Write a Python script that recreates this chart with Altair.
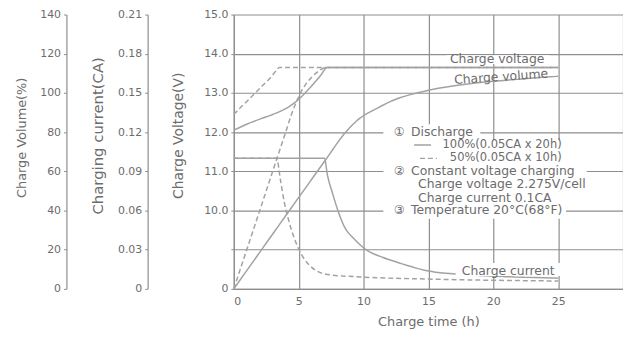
import json
import altair as alt
import pandas as pd

# ---------------- values ----------------
# charge voltage (V)
v100_hours = [0, 1, 2, 3, 4, 4.7, 5.5, 6.2, 6.7, 7.2, 25]
v100_volts = [12.05, 12.2, 12.33, 12.45, 12.6, 12.75, 13.0, 13.25, 13.45, 13.65, 13.65]
v50_hours = [0, 0.5, 1, 1.6, 2.2, 2.8, 3.3, 3.5, 25]
v50_volts = [12.45, 12.62, 12.78, 12.98, 13.18, 13.38, 13.58, 13.65, 13.65]
# charge volume (%)
q100_hours = [0, 7.2, 8.5, 9.7, 11, 12.2, 14.8, 18.6, 22, 25]
q100_pct = [0, 67, 79, 87, 92, 96, 101, 105, 107, 108.5]
q50_hours = [0, 3.3, 4, 4.5, 5, 5.5, 6, 6.5, 7.2, 25]
q50_pct = [0, 66, 80, 90, 98, 104, 108, 111, 113, 113]
# charging current (CA)
i100_hours = [0, 7.0, 7.2, 7.6, 8.5, 9.3, 10.2, 11.5, 12.7, 15, 18, 21, 25]
i100_ca = [0.1, 0.1, 0.088, 0.0735, 0.048, 0.038, 0.030, 0.024, 0.020, 0.0136, 0.0108, 0.0093, 0.0082]
i50_hours = [0, 3.3, 3.6, 3.9, 4.27, 4.89, 5.65, 7.2, 10, 15, 25]
i50_ca = [0.1, 0.1, 0.083, 0.066, 0.051, 0.033, 0.020, 0.011, 0.009, 0.0075, 0.006]

series_names = ["100%", "50%"]

# tick labels
time_ticks = [0, 5, 10, 15, 20, 25, 30]
time_labels = ["0", "5", "10", "15", "20", "25", ""]
volume_ticks = [0, 20, 40, 60, 80, 100, 120, 140]
current_ticks = [0, 0.03, 0.06, 0.09, 0.12, 0.15, 0.18, 0.21]
current_labels = ["0", "0.03", "0.06", "0.09", "0.12", "0.15", "0.18", "0.21"]
voltage_ticks = [8, 9, 10, 11, 12, 13, 14, 15]
voltage_labels = ["0", "", "10.0", "11.0", "12.0", "13.0", "14.0", "15.0"]

# annotation texts
legend_circles = ["\u2460", "\u2461", "\u2462"]
legend_heads = ["Discharge", "Constant voltage charging", "Temperature 20\u00b0C(68\u00b0F)"]
legend_subs = ["Charge voltage 2.275V/cell", "Charge current 0.1CA"]
legend_discharge = ["100%(0.05CA x 20h)", "50%(0.05CA x 10h)"]
curve_labels = ["Charge voltage", "Charge current"]
volume_label = ["Charge volume"]

# annotation placement (hours, volts on the voltage scale)
circle_x = [12.75, 12.75, 12.75]
head_x = [13.66, 13.66, 13.66]
head_y = [12.0, 11.0, 10.0]
sub_x = [14.2, 14.2]
sub_y = [10.67, 10.33]
dis_x = [25.27, 25.27]
dis_y = [11.67, 11.33]
curve_label_x = [20.3, 21.15]
curve_label_y = [13.86, 8.455]
volume_label_x = [20.6]
volume_label_y = [13.41]
sample_x1 = [13.9, 14.35]
sample_x2 = [15.2, 15.65]
bg_h1 = [11.53, 11.53, 11.53, 11.53, 11.53, 11.53, 16.4, 17.1]
bg_h2 = [19.0, 25.5, 27.2, 27.8, 25.3, 25.6, 24.35, 25.2]
bg_v1 = [12.20, 11.79, 11.16, 10.81, 10.48, 10.15, 13.96, 8.66]
bg_v2 = [11.79, 11.16, 10.81, 10.48, 10.15, 9.79, 13.74, 8.33]

# ---------------- styling ----------------
GRID = "#8e8e8e"
CURVE = "#a2a2a2"
TEXT = "#6c6c6c"
FONT = "DejaVu Sans"


def long_df(pairs):
    rows = []
    for name, hs, vs in pairs:
        for h, v in zip(hs, vs):
            rows.append({"hours": h, "value": v, "series": name})
    return pd.DataFrame(rows)


voltage_df = long_df([("100%", v100_hours, v100_volts), ("50%", v50_hours, v50_volts)])
volume_df = long_df([("100%", q100_hours, q100_pct), ("50%", q50_hours, q50_pct)])
current_df = long_df([("100%", i100_hours, i100_ca), ("50%", i50_hours, i50_ca)])

x_axis = alt.Axis(
    values=time_ticks,
    labelExpr=f"{json.dumps(time_labels)}[indexof({json.dumps(time_ticks)}, datum.value)]",
    grid=True, gridColor=GRID, gridWidth=1.2,
    ticks=False, domainColor=GRID, domainWidth=1.2,
    labelFont=FONT, labelFontSize=11, labelColor=TEXT, labelPadding=7,
    title="Charge time  (h)", titleFont=FONT, titleFontSize=13, titleFontWeight="normal",
    titleColor=TEXT, titlePadding=9,
)


def x_enc(field="hours"):
    return alt.X(f"{field}:Q", scale=alt.Scale(domain=[0, 30], nice=False, zero=False), axis=x_axis)


def y_scale(lo, hi):
    return alt.Scale(domain=[lo, hi], nice=False, zero=False)


def left_axis(title, offset, values, label_expr, title_x, title_y, title_size, grid=False):
    return alt.Axis(
        orient="left", offset=offset, values=values, labelExpr=label_expr,
        grid=grid, gridColor=GRID, gridWidth=1.2,
        tickSize=3, tickColor=GRID, domainColor=GRID, domainWidth=1.2,
        labelFont=FONT, labelFontSize=11, labelColor=TEXT, labelPadding=3,
        title=title, titleFont=FONT, titleFontSize=title_size, titleFontWeight="normal",
        titleColor=TEXT, titleAngle=270, titleAlign="center", titleBaseline="middle",
        titleX=title_x, titleY=title_y,
    )


dash = alt.StrokeDash(
    "series:N",
    scale=alt.Scale(domain=series_names, range=[[10, 0], [5, 3]]),
    legend=None,
)

line_style = dict(color=CURVE, strokeWidth=1.5, interpolate="monotone")

volume_layer = alt.Chart(volume_df).mark_line(**line_style).encode(
    x=x_enc(),
    y=alt.Y("value:Q", scale=y_scale(0, 140),
            axis=left_axis("Charge Volume(%)", 169, volume_ticks, "format(datum.value, 'd')",
                           -45, 124, 13)),
    strokeDash=dash,
)

current_layer = alt.Chart(current_df).mark_line(**line_style).encode(
    x=x_enc(),
    y=alt.Y("value:Q", scale=y_scale(0, 0.21),
            axis=left_axis("Charging current(CA)", 87, current_ticks,
                           f"{json.dumps(current_labels)}[round(datum.value / 0.03)]",
                           -51, 122, 15)),
    strokeDash=dash,
)

voltage_layer = alt.Chart(voltage_df).mark_line(**line_style).encode(
    x=x_enc(),
    y=alt.Y("value:Q", scale=y_scale(8, 15),
            axis=left_axis("Charge Voltage(V)", 0, voltage_ticks,
                           f"{json.dumps(voltage_labels)}[round(datum.value - 8)]",
                           -56, 122, 14, grid=True)),
    strokeDash=dash,
)

bg_df = pd.DataFrame({"h1": bg_h1, "h2": bg_h2, "v1": bg_v1, "v2": bg_v2})
bg_layer = alt.Chart(bg_df).mark_rect(color="white").encode(
    x=x_enc("h1"), x2="h2",
    y=alt.Y("v1:Q", scale=y_scale(8, 15), axis=None), y2="v2",
)

sample_df = pd.DataFrame({
    "hours": sample_x1 + sample_x2,
    "value": dis_y + dis_y,
    "series": series_names + series_names,
})
sample_layer = alt.Chart(sample_df).mark_line(color=CURVE, strokeWidth=1.4).encode(
    x=x_enc(),
    y=alt.Y("value:Q", scale=y_scale(8, 15), axis=None),
    strokeDash=dash,
)


def text_layer(labels, xs, ys, align, size=12.5, **extra):
    df = pd.DataFrame({"label": labels, "hours": xs, "value": ys})
    return alt.Chart(df).mark_text(
        align=align, font=FONT, fontSize=size, color=TEXT, baseline="middle", **extra
    ).encode(
        x=x_enc(),
        y=alt.Y("value:Q", scale=y_scale(8, 15), axis=None),
        text="label:N",
    )


texts = [
    text_layer(legend_circles, circle_x, head_y, "center"),
    text_layer(legend_heads, head_x, head_y, "left"),
    text_layer(legend_subs, sub_x, sub_y, "left"),
    text_layer(legend_discharge, dis_x, dis_y, "right", size=11.6),
    text_layer(curve_labels, curve_label_x, curve_label_y, "center"),
    text_layer(volume_label, volume_label_x, volume_label_y, "center", angle=356),
]

chart = alt.layer(
    volume_layer, current_layer, voltage_layer, bg_layer, sample_layer, *texts
).resolve_scale(y="independent").properties(
    width=393,
    height=277,
    padding={"left": 228, "top": 5, "right": 0, "bottom": 44},
    autosize=alt.AutoSizeParams(type="none"),
    background="white",
).configure_view(stroke=None)

chart.save("out.html", embed_options={"renderer": "svg", "actions": False})
